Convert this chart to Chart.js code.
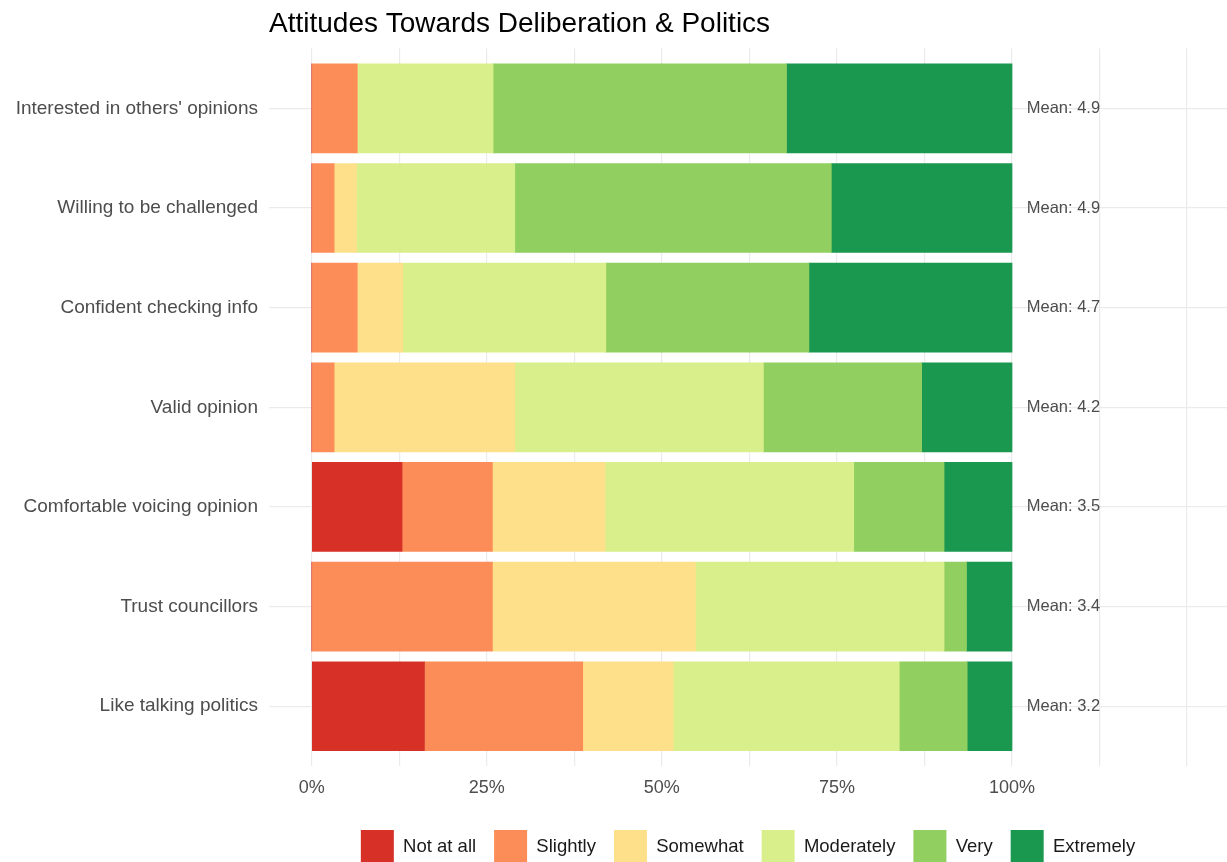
<!DOCTYPE html>
<html>
<head>
<meta charset="utf-8">
<title>Attitudes Towards Deliberation & Politics</title>
<script src="https://cdn.jsdelivr.net/npm/chart.js@4.4.1/dist/chart.umd.min.js"></script>
<style>
    html, body { margin: 0; padding: 0; background: #fff; overflow: hidden; }
    #wrap { position: relative; width: 1227px; height: 873px; }
</style>
</head>
<body>
<div id="wrap"><canvas id="attitudes_chart"></canvas></div>
<script>
// Categorieen (van boven naar beneden)
const categories = [
    "Interested in others' opinions",
    "Willing to be challenged",
    "Confident checking info",
    "Valid opinion",
    "Comfortable voicing opinion",
    "Trust councillors",
    "Like talking politics"
];

// Antwoordniveaus en kleuren
const levels = ["Not at all", "Slightly", "Somewhat", "Moderately", "Very", "Extremely"];
const levelColors = ["#D73027", "#FC8D59", "#FEE08B", "#D9EF8B", "#91CF60", "#1A9850"];

// Percentages per niveau, per categorie
const notAtAll   = [0,    0,    0,    0,    12.9, 0,    16.1];
const slightly   = [6.5,  3.2,  6.5,  3.2,  12.9, 25.8, 22.6];
const somewhat   = [0,    3.2,  6.5,  25.8, 16.1, 29.0, 12.9];
const moderately = [19.4, 22.6, 29.0, 35.5, 35.5, 35.5, 32.3];
const very       = [41.9, 45.2, 29.0, 22.6, 12.9, 3.2,  9.7];
const extremely  = [32.2, 25.8, 29.0, 12.9, 9.7,  6.5,  6.4];

// Gemiddelden (tekst rechts van de balken)
const means = ["4.9", "4.9", "4.7", "4.2", "3.5", "3.4", "3.2"];

// As-ticks: rasterlijnen elke 12.5%, labels alleen op deze waarden
const xGridValues = [0, 12.5, 25, 37.5, 50, 62.5, 75, 87.5, 100, 112.5, 125];
const xTickLabels = { 0: "0%", 25: "25%", 50: "50%", 75: "75%", 100: "100%" };

const FONT = "'Liberation Sans', Arial, sans-serif";
const seriesValues = [notAtAll, slightly, somewhat, moderately, very, extremely];

// Plugin: "Mean: x.x" naast elke balk
const meanLabels = {
    id: "meanLabels",
    afterDatasetsDraw(chart) {
        const { ctx, scales } = chart;
        ctx.save();
        ctx.font = "16.5px " + FONT;
        ctx.fillStyle = "#4d4d4d";
        ctx.textAlign = "left";
        ctx.textBaseline = "middle";
        means.forEach((m, i) => {
            ctx.fillText("Mean: " + m, scales.x.getPixelForValue(102.1), scales.y.getPixelForValue(i));
        });
        ctx.restore();
    }
};

const chart = new Chart(document.getElementById("attitudes_chart").getContext("2d"), {
    type: "bar",
    data: {
        datasets: levels.map((lvl, k) => ({
            label: lvl,
            data: seriesValues[k].map((v, i) => ({ x: v, y: i })),
            backgroundColor: levelColors[k],
            borderWidth: 0,
            barThickness: 89
        }))
    },
    options: {
        indexAxis: "y",
        responsive: true,
        maintainAspectRatio: false,
        animation: false,
        layout: { padding: { left: 0, right: 0, top: 0, bottom: 0 } },
        scales: {
            x: {
                type: "linear",
                stacked: true,
                offset: false,
                min: -6.1,
                max: 130.7,
                afterBuildTicks: (scale) => { scale.ticks = xGridValues.map(v => ({ value: v })); },
                afterFit: (scale) => { scale.height = 46; },
                grid: { color: "#ebebeb", lineWidth: 1.2, drawTicks: false, offset: false },
                border: { display: false },
                ticks: {
                    autoSkip: false,
                    maxRotation: 0,
                    padding: 11,
                    color: "#4d4d4d",
                    font: { family: FONT, size: 18 },
                    callback: (v) => xTickLabels[v] || ""
                }
            },
            y: {
                type: "linear",
                stacked: true,
                reverse: true,
                offset: false,
                min: -0.6,
                max: 6.6,
                afterBuildTicks: (scale) => { scale.ticks = categories.map((c, i) => ({ value: i })); },
                afterFit: (scale) => { scale.width = 269; },
                grid: { color: "#ebebeb", lineWidth: 1.2, drawTicks: false, offset: false },
                border: { display: false },
                ticks: {
                    autoSkip: false,
                    padding: 11,
                    color: "#4d4d4d",
                    font: { family: FONT, size: 19 },
                    callback: (v) => categories[v]
                }
            }
        },
        plugins: {
            title: {
                display: true,
                text: "Attitudes Towards Deliberation & Politics",
                align: "start",
                fullSize: false,
                color: "#000",
                font: { family: FONT, size: 28, weight: "normal" },
                padding: { top: 7, bottom: 8 }
            },
            legend: {
                position: "bottom",
                fullSize: false,
                labels: {
                    boxWidth: 33,
                    boxHeight: 33,
                    padding: 18,
                    color: "#1a1a1a",
                    font: { family: FONT, size: 18.5 }
                }
            },
            tooltip: { enabled: false }
        }
    },
    plugins: [meanLabels]
});
</script>
</body>
</html>
